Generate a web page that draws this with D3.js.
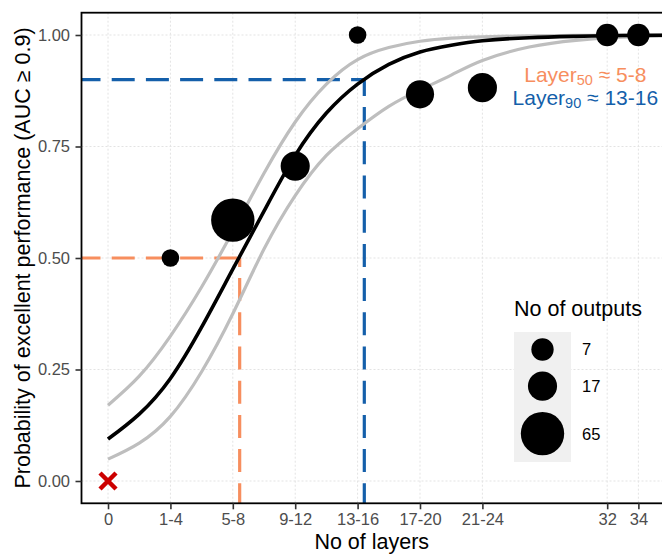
<!DOCTYPE html>
<html>
<head>
<meta charset="utf-8">
<script src="https://cdn.jsdelivr.net/npm/d3@7"></script>
<style>
  body { margin: 0; background: #fff; }
  svg { display: block; font-family: "Liberation Sans", Arial, sans-serif; }
</style>
</head>
<body>
<div id="chart"></div>
<script>
// layer groups on the x axis (numeric position + label)
const xTicks = [0, 4, 8, 12, 16, 20, 24, 32, 34];
const xTickLabels = ["0", "1-4", "5-8", "9-12", "13-16", "17-20", "21-24", "32", "34"];
const yTicks = [0, 0.25, 0.5, 0.75, 1];

// observed proportions and number of outputs per group
const groupX = [4, 8, 12, 16, 20, 24, 32, 34];
const groupP = [0.5, 0.585, 0.706, 1.0, 0.867, 0.882, 1.0, 1.0];
const groupN = [5, 65, 17, 5, 15, 17, 7, 7];

// the zero-layer case (red cross)
const zeroX = [0];
const zeroP = [0];

// fitted curve and its bounds
const curveX     = [0, 2, 4, 6, 8, 10, 12, 14, 16, 18, 20, 22, 24, 27, 30, 33, 35.7];
const fitP       = [0.094, 0.15, 0.23, 0.345, 0.475, 0.605, 0.73, 0.825, 0.89, 0.934, 0.962, 0.977, 0.987, 0.994, 0.997, 0.999, 0.9995];
const upperP     = [0.17, 0.235, 0.325, 0.435, 0.56, 0.69, 0.805, 0.89, 0.945, 0.972, 0.986, 0.993, 0.996, 0.998, 0.999, 1.0, 1.0];
const lowerP     = [0.049, 0.085, 0.145, 0.245, 0.375, 0.52, 0.64, 0.73, 0.79, 0.84, 0.877, 0.91, 0.943, 0.973, 0.988, 0.995, 0.998];

// reference lines: Layer50 and Layer90
const refX = [8.44, 16.43];
const refP = [0.5, 0.9];
const refColors = ["#F78E5E", "#145FAA"];
const refLabels = [["Layer", "50", " ≈ 5-8"], ["Layer", "90", " ≈ 13-16"]];

// size legend
const legendN = [7, 17, 65];

const width = 662, height = 555;
const panel = {left: 81.5, right: 664.9, top: 12.7, bottom: 503.3};

const x = d3.scaleLinear().domain([-1.7, 35.7]).range([panel.left, panel.right]);
const y = d3.scaleLinear().domain([-0.05, 1.05]).range([panel.bottom, panel.top]);
const sizeNorm = d3.scaleLinear().domain([5, 65]).range([0, 1]);
const radius = n => 8.8 + (21.7 - 8.8) * Math.sqrt(sizeNorm(n));

const svg = d3.select("#chart")
  .append("svg")
    .attr("width", width)
    .attr("height", height);

svg.append("defs").append("clipPath")
    .attr("id", "panel-clip")
  .append("rect")
    .attr("x", panel.left)
    .attr("y", panel.top)
    .attr("width", panel.right - panel.left)
    .attr("height", panel.bottom - panel.top);

// grid
const grid = svg.append("g")
    .attr("stroke", "#e3e3e3")
    .attr("stroke-width", 1)
    .attr("stroke-dasharray", "2,2");

grid.selectAll("line.v")
  .data(xTicks)
  .join("line")
    .attr("class", "v")
    .attr("x1", d => x(d)).attr("x2", d => x(d))
    .attr("y1", panel.top).attr("y2", panel.bottom);

grid.selectAll("line.h")
  .data(yTicks)
  .join("line")
    .attr("class", "h")
    .attr("x1", panel.left).attr("x2", panel.right)
    .attr("y1", d => y(d)).attr("y2", d => y(d));

const plot = svg.append("g").attr("clip-path", "url(#panel-clip)");

// dashed reference lines
refX.forEach((rx, i) => {
  plot.append("line")
      .attr("x1", panel.left).attr("x2", x(rx))
      .attr("y1", y(refP[i])).attr("y2", y(refP[i]))
      .attr("stroke", refColors[i])
      .attr("stroke-width", 3.2)
      .attr("stroke-dasharray", "23,11.2")
      .attr("stroke-dashoffset", 4);
  plot.append("line")
      .attr("x1", x(rx)).attr("x2", x(rx))
      .attr("y1", panel.bottom).attr("y2", y(refP[i]))
      .attr("stroke", refColors[i])
      .attr("stroke-width", 3.2)
      .attr("stroke-dasharray", "23,11.2")
      .attr("stroke-dashoffset", 3);
});

// curves
const line = d3.line()
    .x((d, i) => x(curveX[i]))
    .y(d => y(d))
    .curve(d3.curveNatural);

plot.selectAll("path.band")
  .data([upperP, lowerP])
  .join("path")
    .attr("class", "band")
    .attr("d", line)
    .attr("fill", "none")
    .attr("stroke", "#BEBEBE")
    .attr("stroke-width", 3.2);

plot.append("path")
    .attr("d", line(fitP))
    .attr("fill", "none")
    .attr("stroke", "#000")
    .attr("stroke-width", 3.6);

// points
plot.selectAll("circle.pt")
  .data(groupX)
  .join("circle")
    .attr("class", "pt")
    .attr("cx", d => x(d))
    .attr("cy", (d, i) => y(groupP[i]))
    .attr("r", (d, i) => radius(groupN[i]))
    .attr("fill", "#000");

// red cross at zero layers
const cross = 8;
plot.selectAll("path.cross")
  .data(zeroX)
  .join("path")
    .attr("class", "cross")
    .attr("d", (d, i) => {
      const cx = x(d), cy = y(zeroP[i]);
      return `M${cx - cross},${cy - cross}L${cx + cross},${cy + cross}M${cx - cross},${cy + cross}L${cx + cross},${cy - cross}`;
    })
    .attr("stroke", "#CC0000")
    .attr("stroke-width", 4.5)
    .attr("fill", "none");

// panel border
svg.append("rect")
    .attr("x", panel.left)
    .attr("y", panel.top)
    .attr("width", panel.right - panel.left)
    .attr("height", panel.bottom - panel.top)
    .attr("fill", "none")
    .attr("stroke", "#000")
    .attr("stroke-width", 1.8);

// axes
const xAxis = svg.append("g")
    .attr("transform", `translate(0,${panel.bottom})`)
    .call(d3.axisBottom(x).tickValues(xTicks).tickFormat((d, i) => xTickLabels[i]).tickSize(6).tickPadding(4));

const yAxis = svg.append("g")
    .attr("transform", `translate(${panel.left},0)`)
    .call(d3.axisLeft(y).tickValues(yTicks).tickFormat(d3.format(".2f")).tickSize(6).tickPadding(5.5));

[xAxis, yAxis].forEach(g => {
  g.select(".domain").remove();
  g.selectAll(".tick line").attr("stroke", "#333").attr("stroke-width", 1.6);
  g.selectAll(".tick text")
      .attr("fill", "#4d4d4d")
      .style("font-size", "16.5px")
      .style("font-family", "\"Liberation Sans\", Arial, sans-serif");
});

// axis titles
svg.append("text")
    .attr("x", (panel.left + 662) / 2)
    .attr("y", 549)
    .attr("text-anchor", "middle")
    .style("font-size", "21.5px")
    .text("No of layers");

svg.append("text")
    .attr("transform", `translate(30,${(panel.top + panel.bottom) / 2}) rotate(-90)`)
    .attr("text-anchor", "middle")
    .style("font-size", "21.5px")
    .text("Probability of excellent performance (AUC ≥ 0.9)");

// Layer50 / Layer90 annotation
const annoX = 30.6;
const annoP = [0.894, 0.842];
refLabels.forEach((parts, i) => {
  const t = svg.append("text")
      .attr("x", x(annoX))
      .attr("y", y(annoP[i]))
      .attr("text-anchor", "middle")
      .attr("fill", refColors[i])
      .style("font-size", "21px");
  t.append("tspan").text(parts[0]);
  t.append("tspan").attr("dy", 3).style("font-size", "14.5px").text(parts[1]);
  t.append("tspan").attr("dy", -3).text(parts[2]);
});

// size legend
const legend = svg.append("g").attr("transform", "translate(514,316)");
legend.append("text")
    .attr("x", 0)
    .attr("y", 0)
    .style("font-size", "21.5px")
    .text("No of outputs");

const keyW = 57;
const keyH = legendN.map(n => Math.max(35, radius(n) * 2 * 1.31));
const keyTop = d3.cumsum([16].concat(keyH));

legend.append("rect")
    .attr("x", 0)
    .attr("y", keyTop[0])
    .attr("width", keyW)
    .attr("height", d3.sum(keyH))
    .attr("fill", "#F0F0F0");

legend.selectAll("circle")
  .data(legendN)
  .join("circle")
    .attr("cx", keyW / 2)
    .attr("cy", (d, i) => keyTop[i] + keyH[i] / 2)
    .attr("r", d => radius(d))
    .attr("fill", "#000");

legend.selectAll("text.lab")
  .data(legendN)
  .join("text")
    .attr("class", "lab")
    .attr("x", keyW + 11)
    .attr("y", (d, i) => keyTop[i] + keyH[i] / 2)
    .attr("dy", "0.36em")
    .style("font-size", "16.5px")
    .text(d => d);
</script>
</body>
</html>
